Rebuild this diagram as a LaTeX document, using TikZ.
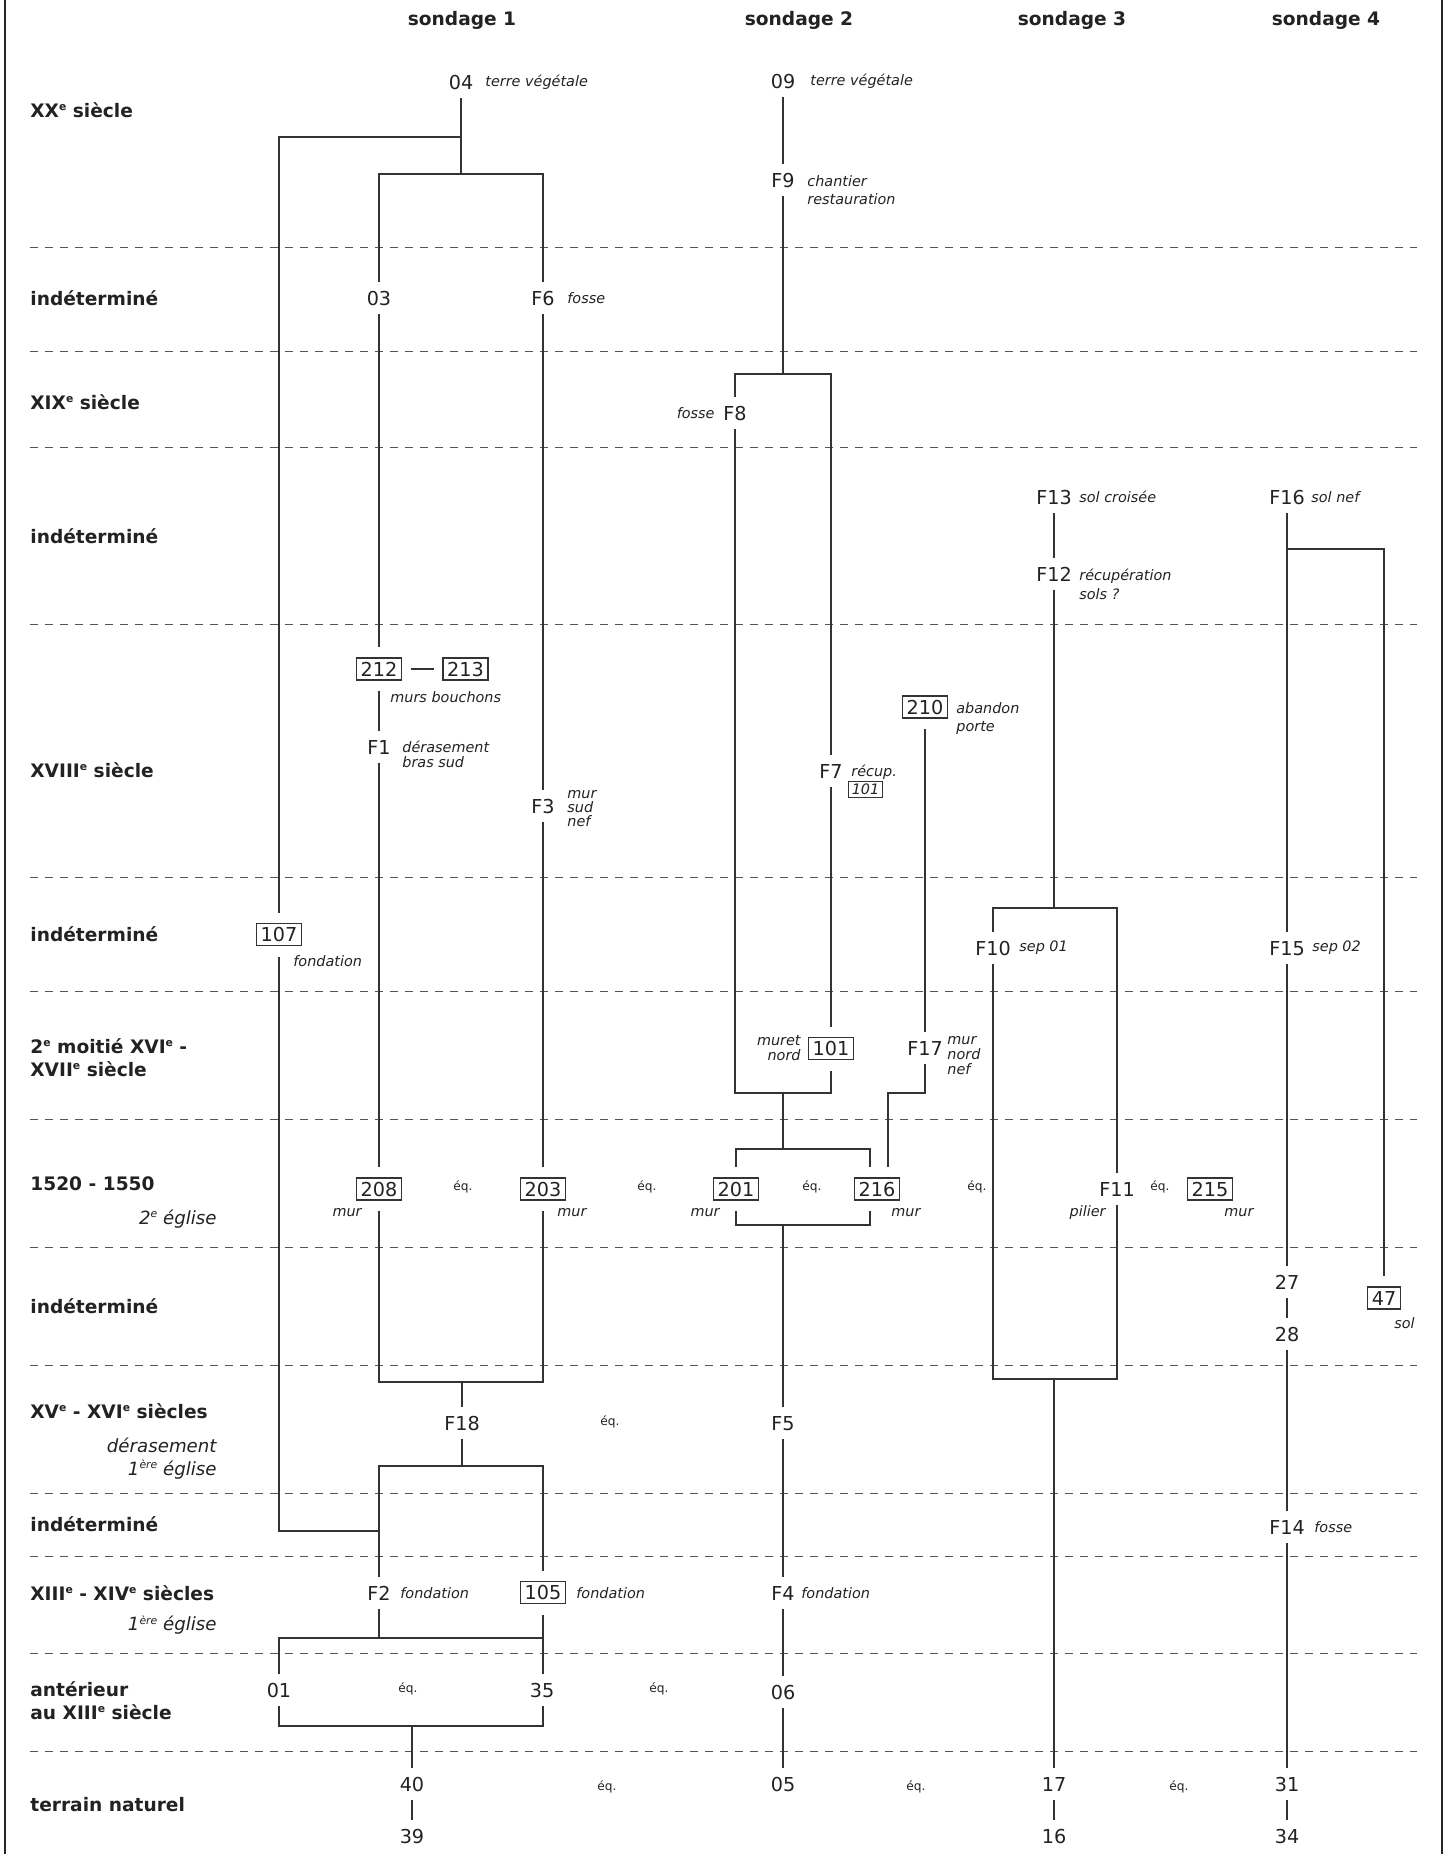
\documentclass[tikz,border=0pt]{standalone}
\usepackage{fontspec}
\setmainfont{DejaVu Sans}
\definecolor{txt}{HTML}{222222}
\definecolor{ln}{HTML}{333333}
\definecolor{dl}{HTML}{555555}
\newcommand\smallsup[1]{\raisebox{3.3pt}{\fontsize{5.4}{6}\selectfont #1}}
\begin{document}
\begin{tikzpicture}[x=0.5pt,y=-0.5pt,
  hunit/.style={font=\fontsize{9.6}{11}\selectfont, text=txt, text height=7pt, text depth=0pt, inner xsep=1pt, inner ysep=0pt, outer ysep=4.5pt, outer xsep=0pt},
  boxunit/.style={hunit, draw=ln, line width=0.6pt, inner xsep=2.1pt, inner ysep=2pt, outer ysep=5.5pt, outer xsep=4.5pt},
  ddesc/.style={font=\fontsize{7.2}{9}\selectfont\itshape, text=txt, inner sep=0pt, align=left, anchor=west},
  ddescr/.style={ddesc, align=right, anchor=east},
  tight/.style={font=\fontsize{7.2}{7.5}\selectfont\itshape},
  perlab/.style={font=\fontsize{9.3}{11.5}\selectfont\bfseries, text=txt, inner sep=0pt, align=left, anchor=west},
  subper/.style={font=\fontsize{9.1}{11.5}\selectfont\itshape, text=txt, inner sep=0pt, align=right, anchor=east},
  eqlab/.style={font=\fontsize{6.1}{7}\selectfont, text=txt, inner sep=0pt},
  sondhead/.style={font=\fontsize{9.3}{11}\selectfont\bfseries, text=txt, inner sep=0pt},
  conn/.style={draw=ln, line width=0.6pt},
  periodline/.style={draw=dl, line width=0.5pt, dash pattern=on 4pt off 3.5pt},
]
\useasboundingbox (0,0) rectangle (1449,1854);
% frame sides
\draw[line width=0.8pt, black!85] (5,0) -- (5,1854);
\draw[line width=0.8pt, black!85] (1442,0) -- (1442,1854);
% period separators
\foreach \yy in {247,351,447,624,877,991,1119,1247,1365,1493,1556,1653,1751}
  \draw[periodline] (30,\yy) -- (1417,\yy);

% headers
\node[sondhead] (h1) at (462,20) {sondage 1};
\node[sondhead] (h2) at (799,20) {sondage 2};
\node[sondhead] (h3) at (1072,20) {sondage 3};
\node[sondhead] (h4) at (1326,20) {sondage 4};

% period labels
\node[perlab] (p1) at (30,110) {XX\smallsup{e} siècle};
\node[perlab] (p2) at (30,298) {indéterminé};
\node[perlab] (p3) at (30,402) {XIX\smallsup{e} siècle};
\node[perlab] (p4) at (30,536) {indéterminé};
\node[perlab] (p5) at (30,770) {XVIII\smallsup{e} siècle};
\node[perlab] (p6) at (30,934) {indéterminé};
\node[perlab] (p7) at (30,1057.5) {2\smallsup{e} moitié XVI\smallsup{e} -\\XVII\smallsup{e} siècle};
\node[perlab] (p8) at (30,1184) {1520 - 1550};
\node[subper] (p8s) at (217,1219) {2\smallsup{e} église};
\node[perlab] (p9) at (30,1306) {indéterminé};
\node[perlab] (p10) at (30,1411) {XV\smallsup{e} - XVI\smallsup{e} siècles};
\node[subper] (p10s) at (217,1458.5) {dérasement\\1\smallsup{ère} église};
\node[perlab] (p11) at (30,1524) {indéterminé};
\node[perlab] (p12) at (30,1593) {XIII\smallsup{e} - XIV\smallsup{e} siècles};
\node[subper] (p12s) at (217,1625) {1\smallsup{ère} église};
\node[perlab] (p13) at (30,1700.5) {antérieur\\au XIII\smallsup{e} siècle};
\node[perlab] (p14) at (30,1805) {terrain naturel};

% level coordinates
\coordinate (L137) at (0,137);
\coordinate (L174) at (0,174);
\coordinate (L374) at (0,374);
\coordinate (L549) at (0,549);
\coordinate (L908) at (0,908);
\coordinate (L1093) at (0,1093);
\coordinate (L1149) at (0,1149);
\coordinate (L1225) at (0,1225);
\coordinate (L1379) at (0,1379);
\coordinate (L1382) at (0,1382);
\coordinate (L1466) at (0,1466);
\coordinate (L1531) at (0,1531);
\coordinate (L1638) at (0,1638);
\coordinate (L1726) at (0,1726);

% ---------- sondage 1 ----------
\node[hunit] (n04) at (461,82) {04};
\node[ddesc] (d04) at (485,82) {terre végétale};
\node[hunit] (n03) at (379,298) {03};
\node[hunit] (nF6) at (543,298) {F6};
\node[ddesc] (dF6) at (567,298) {fosse};
\node[boxunit] (n212) at (379,669) {212};
\node[boxunit] (n213) at (465.5,669) {213};
\node[ddesc] (d212) at (390,697) {murs bouchons};
\node[hunit] (nF1) at (379,747) {F1};
\node[ddesc, tight] (dF1) at (402,754.5) {dérasement\\bras sud};
\node[hunit] (nF3) at (543,806) {F3};
\node[ddesc, font=\fontsize{7.2}{7}\selectfont\itshape] (dF3) at (567,809) {mur\\sud\\nef};
\node[boxunit] (n107) at (279,934.5) {107};
\node[ddesc] (d107) at (293,961) {fondation};
\node[boxunit] (n208) at (379,1189) {208};
\node[ddescr] (d208) at (362,1213) {mur};
\node[boxunit] (n203) at (543,1189) {203};
\node[ddesc] (d203) at (557,1213) {mur};
\node[eqlab] (e1) at (463,1187) {éq.};
\node[hunit] (nF18) at (462,1423) {F18};
\node[hunit] (nF2) at (379,1593) {F2};
\node[ddesc] (dF2) at (400,1593) {fondation};
\node[boxunit] (n105) at (543,1592.5) {105};
\node[ddesc] (d105) at (576,1593) {fondation};
\node[hunit] (n01) at (279,1690) {01};
\node[eqlab] (e2) at (408,1689) {éq.};
\node[hunit] (n35) at (542,1690) {35};
\node[eqlab] (e3) at (659,1689) {éq.};
\node[hunit] (n40) at (412,1784) {40};
\node[hunit] (n39) at (412,1836) {39};
\node[eqlab] (e4) at (607,1787) {éq.};

% ---------- sondage 2 ----------
\node[hunit] (n09) at (783,81) {09};
\node[ddesc] (d09) at (810,81) {terre végétale};
\node[hunit] (nF9) at (783,180) {F9};
\node[ddesc] (dF9) at (807,190) {chantier\\restauration};
\node[hunit] (nF8) at (735,413) {F8};
\node[ddescr] (dF8) at (715,413) {fosse};
\node[hunit] (nF7) at (831,771) {F7};
\node[ddesc] (dF7) at (851,772) {récup.};
\node[draw=ln, line width=0.5pt, font=\fontsize{7.2}{8}\selectfont\itshape, text=txt, text height=5.2pt, text depth=0pt, inner xsep=1.7pt, inner ysep=1.5pt] (bF7) at (865.5,789.5) {101};
\node[boxunit] (n101) at (831,1048.5) {101};
\node[ddescr, tight] (d101) at (801,1048.5) {muret\\nord};
\node[boxunit] (n210) at (925,707) {210};
\node[ddesc] (d210) at (956,719) {abandon\\porte};
\node[hunit] (nF17) at (925,1048) {F17};
\node[ddesc, tight] (dF17) at (947,1056) {mur\\nord\\nef};
\node[boxunit] (n201) at (736,1189) {201};
\node[ddescr] (d201) at (720,1213) {mur};
\node[boxunit] (n216) at (877,1189) {216};
\node[ddesc] (d216) at (891,1213) {mur};
\node[eqlab] (e5) at (647,1187) {éq.};
\node[eqlab] (e6) at (812,1187) {éq.};
\node[hunit] (nF5) at (783,1423) {F5};
\node[eqlab] (e7) at (610,1422) {éq.};
\node[hunit] (nF4) at (783,1593) {F4};
\node[ddesc] (dF4) at (801,1593) {fondation};
\node[hunit] (n06) at (783,1692) {06};
\node[hunit] (n05) at (783,1784) {05};
\node[eqlab] (e8) at (916,1787) {éq.};

% ---------- sondage 3 ----------
\node[hunit] (nF13) at (1054,497) {F13};
\node[ddesc] (dF13) at (1079,497) {sol croisée};
\node[hunit] (nF12) at (1054,574) {F12};
\node[ddesc, font=\fontsize{7.2}{9.5}\selectfont\itshape] (dF12) at (1079,584) {récupération\\sols ?};
\node[hunit] (nF10) at (993,948) {F10};
\node[ddesc] (dF10) at (1019,948) {sep 01};
\node[hunit] (nF11) at (1117,1189) {F11};
\node[ddescr] (dF11) at (1106,1213) {pilier};
\node[eqlab] (e9) at (977,1187) {éq.};
\node[eqlab] (e10) at (1160,1187) {éq.};
\node[boxunit] (n215) at (1210,1189) {215};
\node[ddesc] (d215) at (1224,1213) {mur};
\node[hunit] (n17) at (1054,1784) {17};
\node[hunit] (n16) at (1054,1836) {16};
\node[eqlab] (e11) at (1179,1787) {éq.};

% ---------- sondage 4 ----------
\node[hunit] (nF16) at (1287,497) {F16};
\node[ddesc] (dF16) at (1311,497) {sol nef};
\node[hunit] (nF15) at (1287,948) {F15};
\node[ddesc] (dF15) at (1312,948) {sep 02};
\node[hunit] (n27) at (1287,1282) {27};
\node[hunit] (n28) at (1287,1334) {28};
\node[boxunit] (n47) at (1384,1298) {47};
\node[ddescr] (d47) at (1415,1323) {sol};
\node[hunit] (nF14) at (1287,1527) {F14};
\node[ddesc] (dF14) at (1314,1527) {fosse};
\node[hunit] (n31) at (1287,1784) {31};
\node[hunit] (n34) at (1287,1836) {34};

% helper attachment points on 216
\coordinate (a216t) at ([xshift=-3.5pt]n216.north);
\coordinate (b216t) at ([xshift=5.5pt]n216.north);
\coordinate (a216b) at ([xshift=-3.5pt]n216.south);

% ---------- connectors sondage 1 ----------
\draw[conn] (n04.south) -- (n04.south |- L174);
\draw[conn] (n04.south |- L137) -| (n107.north);
\draw[conn] (n03.north) |- (nF6.north |- L174) -- (nF6.north);
\draw[conn] (n03.south) -- (n212.north);
\draw[conn] (n212.east) -- (n213.west);
\draw[conn] (n212.south) -- (nF1.north);
\draw[conn] (nF1.south) -- (n208.north);
\draw[conn] (nF6.south) -- (nF3.north);
\draw[conn] (nF3.south) -- (n203.north);
\draw[conn] (n208.south) |- (n203.south |- L1382) -- (n203.south);
\draw[conn] (nF18.north) -- (nF18.north |- L1382);
\draw[conn] (nF18.south) -- (nF18.south |- L1466);
\draw[conn] (nF2.north) |- (n105.north |- L1466) -- (n105.north);
\draw[conn] (n107.south) |- (nF2.north |- L1531);
\draw[conn] (nF2.south) -- (nF2.south |- L1638);
\draw[conn] (n105.south) -- (n105.south |- n35.north);
\draw[conn] (n01.north) |- (n105.south |- L1638);
\draw[conn] (n01.south) |- (n105.south |- L1726) -- (n105.south |- n35.south);
\draw[conn] (n40.north) -- (n40.north |- L1726);
\draw[conn] (n40.south) -- (n39.north);

% ---------- connectors sondage 2 ----------
\draw[conn] (n09.south) -- (nF9.north);
\draw[conn] (nF9.south) -- (nF9.south |- L374);
\draw[conn] (nF8.north) |- (nF7.north |- L374) -- (nF7.north);
\draw[conn] (nF7.south) -- (n101.north);
\draw[conn] (nF8.south) |- (n101.south |- L1093) -- (n101.south);
\draw[conn] (nF5.north |- L1093) -- (nF5.north |- L1149);
\draw[conn] (n201.north) |- (a216t |- L1149) -- (a216t);
\draw[conn] (n210.south) -- (nF17.north);
\draw[conn] (nF17.south) |- (b216t |- L1093) -- (b216t);
\draw[conn] (n201.south) |- (a216b |- L1225) -- (a216b);
\draw[conn] (nF5.north) -- (nF5.north |- L1225);
\draw[conn] (nF5.south) -- (nF4.north);
\draw[conn] (nF4.south) -- (n06.north);
\draw[conn] (n06.south) -- (n05.north);

% ---------- connectors sondage 3 ----------
\draw[conn] (nF13.south) -- (nF12.north);
\draw[conn] (nF12.south) -- (nF12.south |- L908);
\draw[conn] (nF10.north) |- (nF11.north |- L908) -- (nF11.north);
\draw[conn] (nF10.south) |- (nF11.south |- L1379) -- (nF11.south);
\draw[conn] (n17.north) -- (n17.north |- L1379);
\draw[conn] (n17.south) -- (n16.north);

% ---------- connectors sondage 4 ----------
\draw[conn] (nF16.south) -- (nF15.north);
\draw[conn] (nF16.south |- L549) -| (n47.north);
\draw[conn] (nF15.south) -- (n27.north);
\draw[conn] (n27.south) -- (n28.north);
\draw[conn] (n28.south) -- (nF14.north);
\draw[conn] (nF14.south) -- (n31.north);
\draw[conn] (n31.south) -- (n34.north);
\end{tikzpicture}
\end{document}
